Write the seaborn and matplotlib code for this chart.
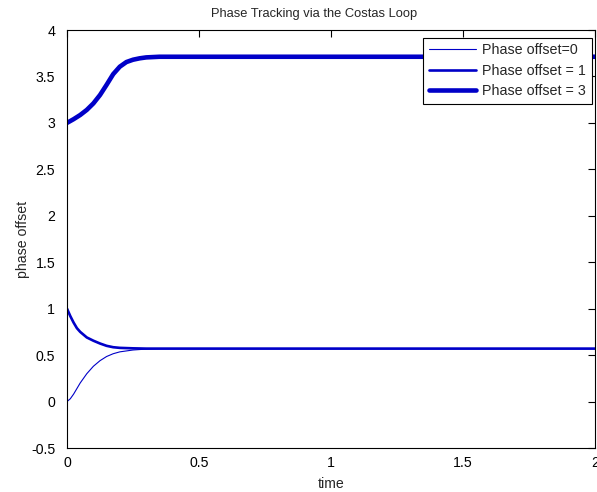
import matplotlib
matplotlib.use("Agg")
import matplotlib.pyplot as plt
import seaborn as sns
import pandas as pd

# Data
t0 = [0, 0.0125, 0.025, 0.0375, 0.05, 0.075, 0.1, 0.125, 0.15, 0.175, 0.2, 0.25, 0.3, 0.35, 2.0]
y0 = [0.0, 0.03, 0.08, 0.14, 0.20, 0.30, 0.38, 0.44, 0.485, 0.515, 0.535, 0.555, 0.565, 0.57, 0.57]

t1 = [0, 0.0125, 0.025, 0.0375, 0.05, 0.075, 0.1, 0.125, 0.15, 0.175, 0.2, 0.25, 0.3, 2.0]
y1 = [1.0, 0.92, 0.85, 0.79, 0.75, 0.69, 0.655, 0.625, 0.60, 0.585, 0.578, 0.573, 0.57, 0.57]

t3 = [0, 0.025, 0.05, 0.075, 0.1, 0.125, 0.15, 0.175, 0.2, 0.225, 0.25, 0.275, 0.3, 0.35, 2.0]
y3 = [3.0, 3.04, 3.085, 3.14, 3.21, 3.30, 3.41, 3.525, 3.605, 3.655, 3.68, 3.695, 3.705, 3.712, 3.712]

labels = ["Phase offset=0", "Phase offset = 1", "Phase offset = 3"]
title = "Phase Tracking via the Costas Loop"
xlabel = "time"
ylabel = "phase offset"
xticks = [0, 0.5, 1, 1.5, 2]
xticklabels = ["0", "0.5", "1", "1.5", "2"]
yticks = [-0.5, 0, 0.5, 1, 1.5, 2, 2.5, 3, 3.5, 4]
yticklabels = ["-0.5", "0", "0.5", "1", "1.5", "2", "2.5", "3", "3.5", "4"]

sns.set_style("white")
plt.rcParams['font.family'] = ['Liberation Sans', 'DejaVu Sans']

fig = plt.figure(figsize=(5.97, 4.92), dpi=100)
ax = fig.add_axes([67/597, 44/492, (595-67)/597, (448-30)/492])

color = "#0000c8"
series = [(t0, y0, 0.8), (t1, y1, 1.9), (t3, y3, 3.3)]
for (tt, yy, lw), lab in zip(series, labels):
    df = pd.DataFrame({"time": tt, "value": yy})
    sns.lineplot(data=df, x="time", y="value", ax=ax, color=color, linewidth=lw,
                 label=lab, estimator=None, sort=False)

ax.set_xlim(0, 2)
ax.set_ylim(-0.5, 4)
ax.set_xticks(xticks)
ax.set_xticklabels(xticklabels)
ax.set_yticks(yticks)
ax.set_yticklabels(yticklabels)
ax.tick_params(direction="in", length=5, width=0.8, top=True, right=True,
               labelsize=10.2, colors="black")
ax.tick_params(axis="y", pad=8.5)
ax.tick_params(axis="x", pad=6)
for s in ax.spines.values():
    s.set_visible(True)
    s.set_color("black")
    s.set_linewidth(0.8)

ax.set_title(title, fontsize=9.3, pad=9, x=0.468)
ax.set_xlabel(xlabel, fontsize=10.2, labelpad=5)
ax.set_ylabel(ylabel, fontsize=10.2, labelpad=1)

leg = ax.legend(loc="upper right", fancybox=False, framealpha=1,
                edgecolor="black", handlelength=3.3, labelspacing=0.45,
                borderpad=0.4, handletextpad=0.45, fontsize=10.3, borderaxespad=0)
leg.get_frame().set_linewidth(0.8)
leg.set_bbox_to_anchor((592/597, 1 - 37.7/492), transform=fig.transFigure)

fig.savefig("out.png", dpi=100)
